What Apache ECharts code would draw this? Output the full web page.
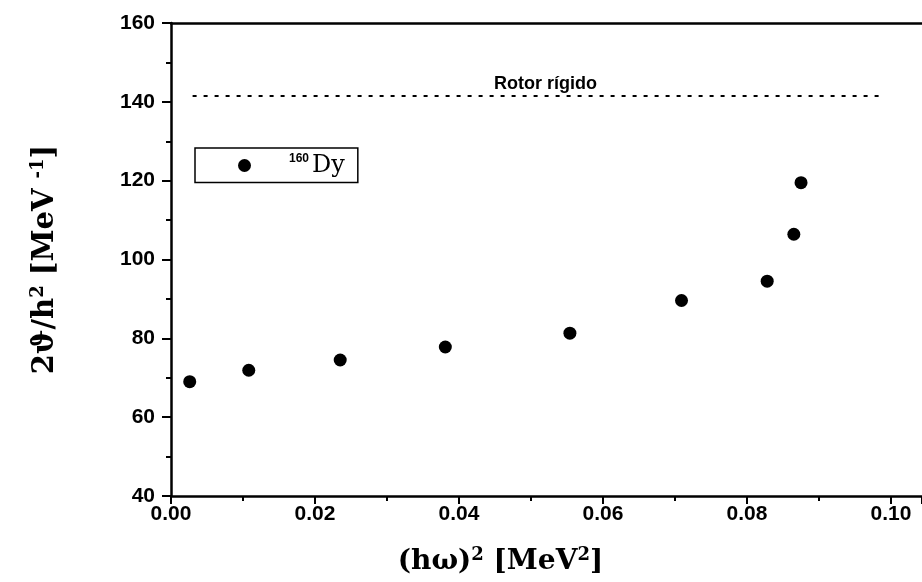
<!DOCTYPE html>
<html>
<head>
<meta charset="utf-8">
<script src="https://cdn.jsdelivr.net/npm/echarts@6/dist/echarts.min.js"></script>
<style>html,body{margin:0;padding:0;background:#fff}#c{width:922px;height:582px}</style>
</head>
<body>
<div id="c"></div>
<script>
const xVals = [0.0026, 0.0108, 0.0235, 0.0381, 0.0554, 0.0709, 0.0828, 0.0865, 0.0875];
const yVals = [69.0, 71.9, 74.5, 77.8, 81.3, 89.6, 94.5, 106.4, 119.5];
const rotorX = [0.0030, 0.0520, 0.0990];
const rotorY = [141.5, 141.5, 141.5];
const rotorLabel = 'Rotor rígido';
const seriesName = '160Dy';
const xTicks = [0.00, 0.02, 0.04, 0.06, 0.08, 0.10];
const yTicks = [40, 60, 80, 100, 120, 140, 160];

const chart = echarts.init(document.getElementById('c'));
const tickFont = {fontFamily: 'Liberation Sans', fontWeight: 'bold', fontSize: 21, color: '#000'};
chart.setOption({
  animation: false,
  backgroundColor: '#fff',
  grid: {left: 171, right: 0, top: 23, bottom: 86},
  legend: {
    left: 195, top: 148,
    icon: 'circle', itemWidth: 13, itemHeight: 13,
    borderColor: '#000', borderWidth: 1.5, borderRadius: 0,
    padding: [5, 13, 5, 43],
    data: [seriesName],
    formatter: () => '{gap|}{sup|160}{dy|Dy}',
    textStyle: {
      rich: {
        gap: {width: 33},
        sup: {fontFamily: 'Liberation Sans', fontWeight: 'bold', fontSize: 12, color: '#000', verticalAlign: 'top', padding: [0, 3, 10, 0]},
        dy: {fontFamily: 'DejaVu Serif', fontSize: 24, color: '#000', lineHeight: 25}
      }
    }
  },
  xAxis: [{
    type: 'value', min: 0, max: 0.1043, interval: 0.02,
    name: '{t|(hω)}{s|2}{t| [MeV}{s|2}{t|]}',
    nameLocation: 'middle', nameGap: 50,
    nameTextStyle: {
      padding: [0, 92, 0, 0],
      rich: {
        t: {fontFamily: 'DejaVu Serif', fontWeight: 'bold', fontSize: 28, color: '#000'},
        s: {fontFamily: 'DejaVu Serif', fontWeight: 'bold', fontSize: 18, color: '#000', verticalAlign: 'top', padding: [0, 0, 14, 0]}
      }
    },
    axisLine: {lineStyle: {color: '#000', width: 2.5}},
    axisTick: {show: true, inside: false, length: 8, lineStyle: {color: '#000', width: 2}},
    minorTick: {show: true, splitNumber: 2, length: 5, lineStyle: {color: '#000', width: 2}},
    splitLine: {show: false},
    axisLabel: Object.assign({margin: 8, showMaxLabel: false,
      formatter: v => xTicks.some(t => Math.abs(t - v) < 1e-6) ? v.toFixed(2) : ''}, tickFont)
  }, {
    type: 'value', position: 'top', min: 0, max: 0.1043,
    axisLine: {show: true, lineStyle: {color: '#000', width: 2.5}},
    axisTick: {show: false}, axisLabel: {show: false}, splitLine: {show: false}
  }],
  yAxis: {
    type: 'value', min: 40, max: 160, interval: 20,
    name: '{t|2ϑ/h}{s|2}{t| [MeV }{s|-1}{t|]}',
    nameLocation: 'middle', nameGap: 110, nameRotate: 90,
    nameTextStyle: {
      rich: {
        t: {fontFamily: 'DejaVu Serif', fontWeight: 'bold', fontSize: 29, color: '#000'},
        s: {fontFamily: 'DejaVu Serif', fontWeight: 'bold', fontSize: 18, color: '#000', verticalAlign: 'top', padding: [0, 0, 14, 0]}
      }
    },
    axisLine: {lineStyle: {color: '#000', width: 2.5}},
    axisTick: {show: true, inside: false, length: 9, lineStyle: {color: '#000', width: 2}},
    minorTick: {show: true, splitNumber: 2, length: 5, lineStyle: {color: '#000', width: 2}},
    splitLine: {show: false},
    axisLabel: Object.assign({margin: 16,
      formatter: v => yTicks.includes(v) ? String(v) : ''}, tickFont)
  },
  series: [{
    name: seriesName, type: 'scatter', symbol: 'circle', symbolSize: 13,
    itemStyle: {color: '#000', opacity: 1},
    data: xVals.map((x, i) => [x, yVals[i]])
  }, {
    name: 'rotor', type: 'line', symbol: 'circle', symbolSize: 1, showSymbol: true, silent: true,
    itemStyle: {color: 'rgba(0,0,0,0)'},
    lineStyle: {color: '#000', width: 2, type: [4, 7]},
    label: {show: false},
    data: rotorX.map((x, i) => ({
      value: [x, rotorY[i]],
      label: i === 1 ? {show: true, position: 'top', distance: 2, formatter: rotorLabel,
        fontFamily: 'Liberation Sans', fontWeight: 'bold', fontSize: 18, color: '#000'} : {show: false}
    }))
  }]
});
</script>
</body>
</html>
